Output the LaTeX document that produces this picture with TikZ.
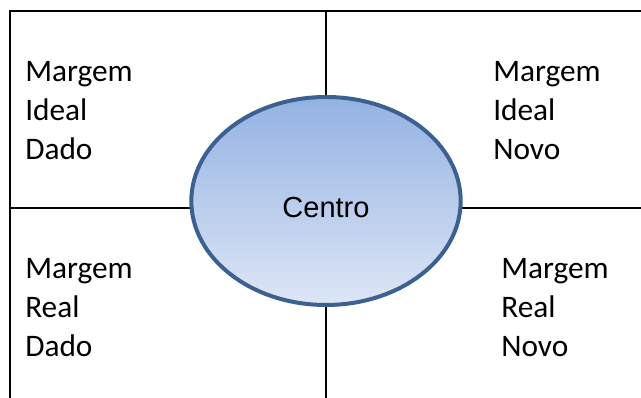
\documentclass[tikz,border=0pt]{standalone}
\usepackage{fontspec}
\setmainfont{Carlito}
\newfontfamily\arialfont{Liberation Sans}
\usepackage{tikz}
\usetikzlibrary{shapes.geometric}
\definecolor{rand}{HTML}{3C6190}
\definecolor{oben}{HTML}{93B2E2}
\definecolor{unten}{HTML}{DEE6F6}
\tikzset{
  rahmen/.style={black,line width=1.6pt},
  feld/.style={anchor=base west,inner sep=0pt,align=left,
    font=\fontsize{23.5}{29.25}\selectfont},
  kreis/.style={ellipse,draw=rand,line width=3pt,top color=oben,bottom color=unten,
    minimum width=202pt,minimum height=156pt,inner sep=0pt},
}
\begin{document}
\begin{tikzpicture}[x=0.75pt,y=0.75pt]
  \useasboundingbox (0,0) rectangle (641,398);
  % Rahmen und Kreuz
  \coordinate (ol) at (10,387);
  \coordinate (or) at (641,387);
  \coordinate (ul) at (10,0);
  \coordinate (ml) at (10,190);
  \coordinate (mr) at (641,190);
  \coordinate (mo) at (326,387);
  \coordinate (mu) at (326,0);
  \draw[rahmen] (or) -- (ol) -- (ul);
  \draw[rahmen] (ml) -- (mr);
  \draw[rahmen] (mo) -- (mu);
  % Mitte
  \node[kreis] (centro) at (326,197) {};
  \node[font=\arialfont\fontsize{21.75}{26}\selectfont] (centrotxt) at (326,190) {Centro};
  % Felder (base = letzte Zeile)
  \node[feld] (idealdado) at (25,238) {Margem\\Ideal\\Dado};
  \node[feld] (idealnovo) at (493,238) {Margem\\Ideal\\Novo};
  \node[feld] (realdado) at (25,41) {Margem\\Real\\Dado};
  \node[feld] (realnovo) at (501,41) {Margem\\Real\\Novo};
\end{tikzpicture}
\end{document}
